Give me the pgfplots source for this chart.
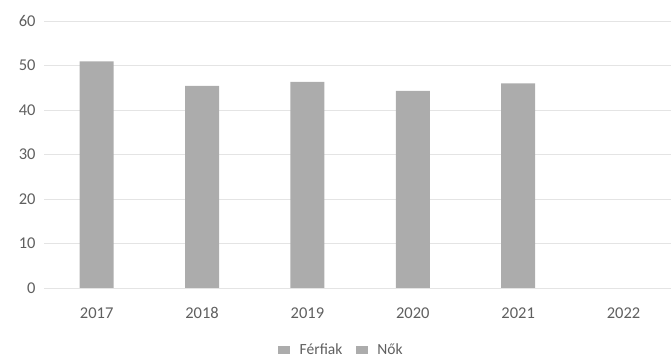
\documentclass[border=0pt]{standalone}
\usepackage{pgfplots}
\pgfplotsset{compat=1.18}
\usepackage{fontspec}
\setmainfont{Carlito}
\definecolor{bargray}{RGB}{172,172,172}
\definecolor{gridgray}{RGB}{228,228,228}
\definecolor{txtgray}{RGB}{95,95,95}
\begin{document}
\begin{tikzpicture}
\begin{axis}[
  scale only axis,
  width=627bp, height=267bp,
  xmin=-0.5, xmax=5.45,
  ymin=0, ymax=60,
  ytick={0,10,...,60},
  xtick={0,1,2,3,4,5},
  xticklabels={2017,2018,2019,2020,2021,2022},
  axis line style={draw=none},
  tick style={draw=none},
  ymajorgrids, grid style={gridgray, line width=0.8pt},
  ybar, bar width=34bp,
  ticklabel style={font=\fontsize{16.5bp}{18bp}\selectfont, text=txtgray},
  /pgf/number format/assume math mode=true,
  yticklabel style={xshift=-5bp},
  xticklabel style={text height=11bp, text depth=0bp, yshift=-12bp},
  legend style={at={(0.474,-0.232)}, anchor=center, draw=none, fill=none,
    font=\fontsize{15.5bp}{17bp}\selectfont, text=txtgray,
    legend columns=2, column sep=12bp, nodes={inner xsep=1.5bp}},
  legend image code/.code={\path (0bp,-4bp) rectangle (8bp,4bp);
    \fill[#1, overlay] (4bp,-4bp) rectangle (12bp,4bp);},
]
\addplot[fill=bargray, draw=none] coordinates {(0,50.9) (1,45.4) (2,46.3) (3,44.3) (4,46.0)};
\addlegendentry{Férfiak}
\addlegendimage{fill=bargray, draw=none}
\addlegendentry{Nők}
\coordinate (bl) at (rel axis cs:0,0);
\coordinate (tr) at (rel axis cs:1,1);
\end{axis}
\pgfresetboundingbox
\path[use as bounding box] ([shift={(-44bp,-69bp)}]bl) rectangle ([shift={(0bp,21bp)}]tr);
\end{tikzpicture}
\end{document}
